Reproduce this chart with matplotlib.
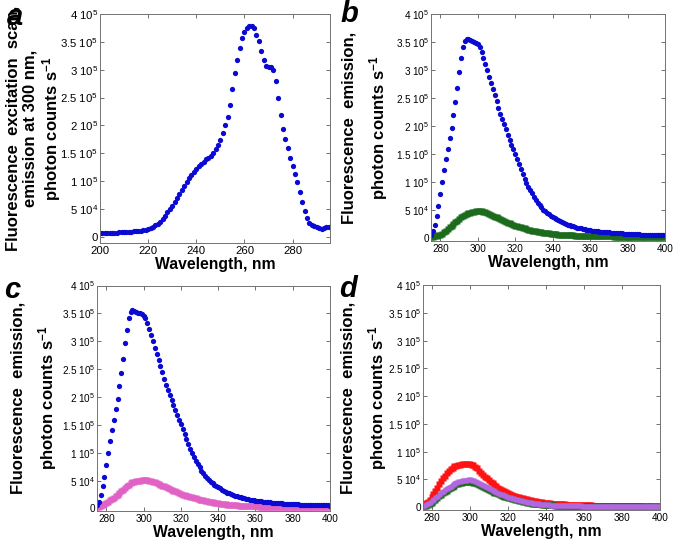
import numpy as np
import matplotlib
matplotlib.use("Agg")
import matplotlib.pyplot as plt

plt.rcParams['font.family'] = ['Liberation Sans', 'DejaVu Sans']
plt.rcParams['mathtext.fontset'] = 'custom'
plt.rcParams['mathtext.rm'] = 'Liberation Sans'
plt.rcParams['mathtext.bf'] = 'Liberation Sans:bold'
plt.rcParams['mathtext.it'] = 'Liberation Sans:italic'

# panel a: excitation scan, emission at 300 nm (values in 1e3 counts/s)
exc_nm = list(range(200, 296))
exc_k = [7, 7, 7, 7, 7.2, 7.4, 7.6, 7.8, 8, 8.2,
         8.5, 8.8, 9.1, 9.4, 9.7, 10, 10.5, 11, 11.5, 12.5,
         14, 16, 18, 20.5, 23, 27, 32, 38, 44, 50,
         56, 63, 70, 77, 84, 91, 98, 105, 111, 117,
         122, 127, 131, 135, 139, 142, 146, 151, 157, 165,
         174, 186, 200, 215, 236, 266, 294, 317, 339, 356,
         368, 375, 378, 379, 374, 363, 351, 333, 317, 307,
         305, 305, 299, 279, 250, 219, 193, 176, 160, 142,
         127.5, 112, 98, 81, 63, 46, 33, 25, 21, 19.2,
         17.5, 15.8, 15, 15.5, 17, 18]

# panels b-d: emission spectra 275-400 nm (values in 1e3 counts/s)
em_nm = list(range(275, 401))
blue_k = [6, 12, 24, 40, 57, 78, 100, 121, 141, 159,
          178, 197, 219, 243, 268, 296, 321, 341, 352, 356,
          355, 353, 351, 350, 348, 346, 341, 333, 322, 311,
          300, 288, 277, 266, 255, 244, 233, 222, 212, 203,
          194, 185, 176, 167, 159, 151, 142, 133, 124, 115,
          106, 99, 92, 86, 80, 74, 68, 63, 59, 55,
          51, 48, 45, 43, 40, 38, 36, 34, 32, 30,
          28.5, 27, 25.5, 24, 23, 22, 21, 20, 19, 18.2,
          17.4, 16.7, 16, 15.4, 14.8, 14.2, 13.7, 13.2, 12.7, 12.3,
          11.9, 11.5, 11.1, 10.8, 10.5, 10.2, 9.9, 9.6, 9.3, 9,
          8.8, 8.6, 8.4, 8.2, 8, 7.8, 7.6, 7.4, 7.2, 7,
          6.8, 6.7, 6.6, 6.5, 6.4, 6.3, 6.2, 6.1, 6, 5.9,
          5.8, 5.7, 5.6, 5.5, 5.4, 5.3]
green_k = [3, 3, 3.5, 4, 5, 6, 8, 10.5, 13.5, 16.5,
           19.5, 22.5, 25.5, 28.5, 31.5, 34.5, 37, 39, 41, 43,
           44.5, 45.5, 46.5, 47.5, 48, 48.5, 48.5, 48, 47, 46,
           44.5, 43, 41.5, 40, 38.5, 37, 35.5, 34, 32.5, 31,
           29.5, 28, 26.5, 25, 24, 22.5, 21.5, 20.5, 19.5, 18.5,
           17.5, 16.5, 15.5, 14.5, 13.5, 13, 12, 11.5, 11, 10.5,
           10, 9.5, 9, 8.5, 8, 7.5, 7.2, 6.9, 6.6, 6.3,
           6, 5.8, 5.6, 5.4, 5.2, 5.1, 5, 4.8, 4.6, 4.4,
           4.3, 4.2, 4.1, 4, 3.9, 3.8, 3.7, 3.6, 3.5, 3.45,
           3.4, 3.35, 3.3, 3.25, 3.2, 3.15, 3.1, 3.05, 3, 2.95,
           2.9, 2.85, 2.8, 2.75, 2.7, 2.65, 2.6, 2.55, 2.5, 2.45,
           2.4, 2.35, 2.3, 2.25, 2.2, 2.2, 2.1, 2.1, 2.1, 2,
           2, 2, 2, 2, 2, 2]
pink_k = [2, 3, 4, 5.5, 7.5, 9.5, 12, 14.5, 17, 19.5,
          22, 25, 28, 31, 33.5, 36.5, 39.5, 42.5, 45, 47,
          48, 49, 49.5, 50, 50.5, 51, 51, 50.5, 50, 49,
          48, 47, 45.5, 44, 42.5, 41, 39.5, 38, 36.5, 35,
          33.5, 32, 30.5, 29, 27.5, 26, 25, 24, 23, 22,
          21, 20, 19, 18, 17, 16, 15.2, 14.4, 13.6, 12.8,
          12, 11.4, 10.8, 10.2, 9.6, 9, 8.6, 8.2, 7.8, 7.4,
          7, 6.7, 6.4, 6.1, 5.8, 5.5, 5.3, 5.1, 4.9, 4.7,
          4.5, 4.3, 4.1, 3.9, 3.8, 3.7, 3.6, 3.5, 3.4, 3.3,
          3.2, 3.1, 3.0, 3.0, 2.9, 2.9, 2.8, 2.8, 2.7, 2.7,
          2.6, 2.6, 2.5, 2.5, 2.4, 2.4, 2.3, 2.3, 2.3, 2.2,
          2.2, 2.2, 2.1, 2.1, 2.1, 2, 2, 2, 2, 2,
          2, 2, 2, 2, 2, 2]
red_nm = list(range(275, 391))
red_k = [5, 6.5, 8, 10, 13, 18, 23, 29, 35, 41,
         47, 52, 57, 61.5, 65.5, 69, 71.5, 73.5, 75, 76,
         76.5, 77, 77, 77, 77, 77, 76.5, 75.5, 73, 70,
         66, 62, 58.5, 55, 52, 49, 46, 43, 40.5, 38,
         35.5, 33, 31, 29, 27, 25.5, 24, 22.5, 21, 20,
         19, 18, 17, 16, 15, 14.2, 13.4, 12.6, 11.8, 11,
         10.4, 9.8, 9.2, 8.7, 8.2, 7.8, 7.4, 7, 6.6, 6.3,
         6, 5.7, 5.5, 5.3, 5.1, 5, 4.8, 4.6, 4.4, 4.2,
         4.1, 4, 3.9, 3.8, 3.7, 3.6, 3.5, 3.4, 3.3, 3.2,
         3.1, 3.1, 3, 3, 3, 3, 2.9, 2.9, 2.9, 2.8,
         2.8, 2.8, 2.7, 2.7, 2.7, 2.6, 2.6, 2.6, 2.5, 2.5,
         2.5, 2.5, 2.5, 2.5, 2.5, 2.5]
purple_k = [3, 4, 5.5, 7.5, 10, 12.5, 15, 18, 21, 24,
            27, 29.5, 32, 34.5, 37, 39, 41, 43, 45, 46.5,
            47.5, 48.5, 49, 49.5, 50, 50, 49.5, 48.5, 47, 45.5,
            44, 42, 40, 38, 36, 34, 32, 30.5, 29, 27.5,
            26, 24.5, 23, 21.5, 20, 19, 18, 17, 16, 15,
            14, 13.2, 12.4, 11.6, 10.8, 10, 9.4, 8.8, 8.2, 7.7,
            7.2, 6.8, 6.4, 6, 5.7, 5.4, 5.1, 4.9, 4.7, 4.5,
            4.3, 4.1, 3.9, 3.8, 3.7, 3.6, 3.5, 3.45, 3.4, 3.35,
            3.3, 3.25, 3.2, 3.15, 3.1, 3.05, 3, 3, 2.95, 2.9,
            2.9, 2.85, 2.8, 2.8, 2.75, 2.75, 2.7, 2.7, 2.7, 2.65,
            2.65, 2.6, 2.6, 2.6, 2.6, 2.55, 2.55, 2.55, 2.5, 2.5,
            2.5, 2.5, 2.5, 2.5, 2.5, 2.5, 2.5, 2.5, 2.5, 2.5,
            2.5, 2.5, 2.5, 2.5, 2.5, 2.5]
green_d_k = [1, 1.5, 2.5, 4, 6, 8, 10.5, 13.5, 16.5, 19.5,
             22.5, 25, 27.5, 30, 32.5, 35, 37, 39, 41, 42.5,
             43.5, 44.5, 45, 45.5, 46, 46, 45.5, 44.5, 43, 41.5,
             40, 38.5, 37, 35, 33, 31, 29.5, 28, 26.5, 25,
             23.5, 22, 20.5, 19, 18, 17, 16, 15, 14, 13,
             12.2, 11.4, 10.6, 9.8, 9, 8.4, 7.8, 7.2, 6.7, 6.2,
             5.8, 5.4, 5, 4.7, 4.4, 4.1, 3.9, 3.7, 3.5, 3.3,
             3.1, 3, 2.9, 2.8, 2.7, 2.6, 2.5, 2.45, 2.4, 2.35,
             2.3, 2.25, 2.2, 2.15, 2.1, 2.05, 2, 2, 1.95, 1.9,
             1.9, 1.85, 1.8, 1.8, 1.75, 1.75, 1.7, 1.7, 1.7, 1.65,
             1.65, 1.6, 1.6, 1.6, 1.6, 1.55, 1.55, 1.55, 1.5, 1.5,
             1.5, 1.5, 1.5, 1.5, 1.5, 1.5, 1.5, 1.5, 1.5, 1.5,
             1.5, 1.5, 1.5, 1.5, 1.5, 1.5]

ytick_vals = [0, 5e4, 1e5, 1.5e5, 2e5, 2.5e5, 3e5, 3.5e5, 4e5]
ytick_labels = ['0', '5 10$^4$', '1 10$^5$', '1.5 10$^5$', '2 10$^5$',
                '2.5 10$^5$', '3 10$^5$', '3.5 10$^5$', '4 10$^5$']
em_label = 'Fluorescence  emission,\nphoton counts s$^{\\mathbf{-1}}$'
exc_label = ('Fluorescence  excitation  scan,\nemission at 300 nm,\n'
             'photon counts s$^{\\mathbf{-1}}$')

BLUE = '#0a0ad2'
GREEN = '#1c6b1c'
PINK = '#e062c4'
PURPLE = '#b266e0'
RED = '#ff1212'

fig = plt.figure(figsize=(6.75, 5.5), dpi=100)


def k(vals):
    return np.array(vals) * 1000.0


def style(ax, xlim, xticks, ylim, labx, ylabel, tsize, lspace):
    ax.set_xlim(*xlim)
    ax.set_ylim(*ylim)
    ax.set_xticks(xticks)
    ax.set_yticks(ytick_vals)
    ax.set_yticklabels(ytick_labels)
    ax.tick_params(direction='in', top=True, right=True, length=3,
                   width=0.6, color='0.35', labelsize=tsize, pad=2)
    ax.tick_params(axis='y', pad=1.2)
    for sp in ax.spines.values():
        sp.set_color('0.45')
        sp.set_linewidth(0.7)
    ax.set_xlabel('Wavelength, nm', fontsize=11.3, fontweight='bold', labelpad=1)
    ax.set_ylabel(ylabel, fontsize=12, fontweight='bold', linespacing=lspace)
    ax.yaxis.set_label_coords(labx, 0.5)


em_ticks = [280, 300, 320, 340, 360, 380, 400]

ax_a = fig.add_axes([0.1481, 0.5582, 0.3407, 0.4164])
ax_a.plot(exc_nm, k(exc_k), 'o', color=BLUE, ms=3.8, mec='none')
style(ax_a, (200, 295.5), [200, 220, 240, 260, 280], (-11000, 4e5), -0.16,
      exc_label, 8.2, 1.15)

ax_b = fig.add_axes([0.6385, 0.5618, 0.3467, 0.4127])
ax_b.plot(em_nm, k(green_k), 's', color=GREEN, ms=3.9, mec='none')
ax_b.plot(em_nm, k(blue_k), 'o', color=BLUE, ms=3.8, mec='none')
style(ax_b, (275, 400), em_ticks, (-5000, 4e5), -0.175, em_label, 7.2, 1.6)

ax_c = fig.add_axes([0.1437, 0.0709, 0.3452, 0.41])
ax_c.plot(em_nm, k(pink_k), 's', color=PINK, ms=3.7, mec='none')
ax_c.plot(em_nm, k(blue_k), 'o', color=BLUE, ms=3.8, mec='none')
style(ax_c, (275, 400), em_ticks, (-4500, 4e5), -0.165, em_label, 7.2, 1.6)

ax_d = fig.add_axes([0.6267, 0.0727, 0.3511, 0.409])
ax_d.plot(red_nm, k(red_k), 's', color=RED, ms=4.8, mec='none')
ax_d.plot(em_nm, k(green_d_k), 's', color=GREEN, ms=3.8, mec='none')
ax_d.plot(em_nm, k(purple_k), 's', color=PURPLE, ms=3.6, mec='none')
style(ax_d, (275.5, 400), em_ticks, (-5000, 4e5), -0.145, em_label, 7.2, 1.6)

for x, y, s in [(0.010, 0.955, 'a'), (0.504, 0.960, 'b'),
                (0.006, 0.458, 'c'), (0.503, 0.460, 'd')]:
    fig.text(x, y, s, fontsize=21, fontweight='bold', fontstyle='italic')

fig.savefig('out.png', dpi=100)
